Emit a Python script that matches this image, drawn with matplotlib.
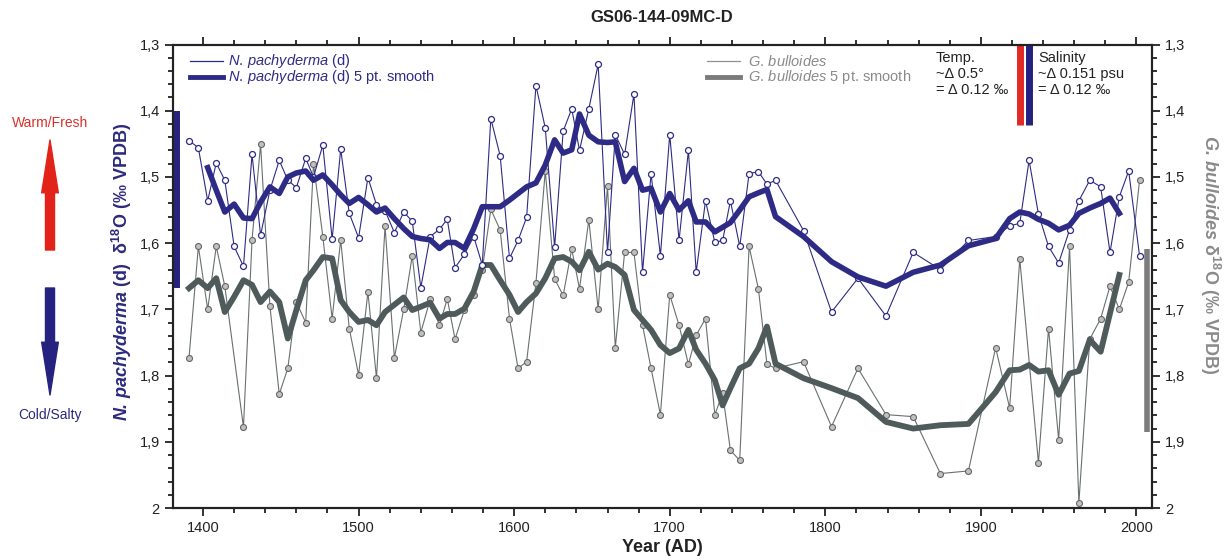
import numpy as np
import matplotlib
matplotlib.use("Agg")
import matplotlib.pyplot as plt
from matplotlib.ticker import MultipleLocator, FuncFormatter

plt.rcParams['font.family'] = ['Liberation Sans', 'DejaVu Sans']
plt.rcParams['mathtext.fontset'] = 'custom'
plt.rcParams['mathtext.rm'] = 'Liberation Sans'
plt.rcParams['mathtext.it'] = 'Liberation Sans:italic'
plt.rcParams['mathtext.bf'] = 'Liberation Sans:bold'
plt.rcParams['mathtext.bfit'] = 'Liberation Sans:italic:bold'

# sample years (AD)
years = np.array([
    1391, 1397, 1403, 1408.5, 1414, 1420, 1426, 1431.5, 1437, 1443,
    1449, 1454.5, 1460, 1466, 1471, 1477, 1483, 1488.5, 1494, 1500,
    1506, 1511.5, 1517, 1523, 1529, 1534.5, 1540, 1546, 1552, 1557,
    1562, 1568, 1574, 1579.5, 1585, 1591, 1597, 1602.5, 1608, 1614,
    1620, 1626, 1631.5, 1637, 1642, 1648, 1654, 1660, 1665, 1671,
    1677, 1682.5, 1688, 1694, 1700, 1706, 1712, 1717, 1723, 1729,
    1734, 1739, 1745, 1751, 1757, 1762.5, 1768, 1786, 1804, 1821,
    1839, 1856.5, 1874, 1892, 1909.5, 1918.5, 1925, 1931, 1937, 1943.5,
    1950, 1957, 1963, 1970, 1977, 1983, 1989, 1995, 2002])

nan = np.nan

# N. pachyderma (d) d18O
npd_raw = np.array([
    1.445, 1.456, 1.536, 1.479, 1.505, 1.605, 1.635, 1.466, 1.588, 1.520,
    1.475, 1.505, 1.516, 1.472, 1.500, 1.452, 1.594, 1.458, 1.555, 1.592,
    1.501, 1.542, 1.551, 1.584, 1.553, 1.567, 1.667, 1.590, 1.579, 1.564,
    1.637, 1.617, 1.590, 1.633, 1.412, 1.468, 1.623, 1.596, 1.561, 1.362,
    1.426, 1.606, 1.431, 1.397, 1.460, 1.397, 1.330, 1.614, 1.436, 1.466,
    1.375, 1.644, 1.495, 1.619, 1.436, 1.596, 1.460, 1.644, 1.536, 1.599,
    1.596, 1.536, 1.605, 1.495, 1.492, 1.511, 1.505, 1.581, 1.704, 1.653,
    1.710, 1.614, 1.640, 1.596, 1.590, 1.574, 1.570, 1.475, 1.556, 1.605,
    1.630, 1.580, 1.536, 1.505, 1.515, 1.614, 1.530, 1.491, 1.619])

npd_smooth = np.array([
    nan, nan, 1.486, 1.520, 1.553, 1.541, 1.562, 1.563, 1.538, 1.515,
    1.525, 1.500, 1.494, 1.491, 1.505, 1.497, 1.512, 1.527, 1.540, 1.531,
    1.542, 1.553, 1.547, 1.563, 1.578, 1.590, 1.593, 1.595, 1.608, 1.599,
    1.599, 1.608, 1.578, 1.545, 1.545, 1.545, 1.535, 1.525, 1.515, 1.509,
    1.482, 1.444, 1.464, 1.459, 1.405, 1.437, 1.447, 1.448, 1.447, 1.507,
    1.487, 1.520, 1.517, 1.553, 1.525, 1.550, 1.536, 1.568, 1.568, 1.583,
    1.576, 1.569, 1.550, 1.530, 1.524, 1.519, 1.560, 1.590, 1.628, 1.651,
    1.665, 1.644, 1.633, 1.604, 1.593, 1.563, 1.553, 1.556, 1.564, 1.570,
    1.580, 1.573, 1.555, 1.547, 1.540, 1.532, 1.555, nan, nan])

# G. bulloides d18O
gb_raw = np.array([
    1.773, 1.605, 1.700, 1.605, 1.665, nan, 1.878, 1.595, 1.451, 1.695,
    1.828, 1.789, 1.689, 1.720, 1.480, 1.590, 1.714, 1.595, 1.729, 1.799,
    1.674, 1.804, 1.574, 1.773, 1.700, 1.619, 1.735, 1.685, 1.724, 1.684,
    1.745, 1.701, 1.678, 1.640, 1.549, 1.580, 1.714, 1.789, 1.779, 1.660,
    1.491, 1.654, 1.679, 1.609, 1.669, 1.565, 1.700, 1.514, 1.758, 1.614,
    1.614, 1.724, 1.789, 1.859, 1.678, 1.724, 1.783, 1.739, 1.714, 1.859,
    1.827, 1.913, 1.928, 1.605, 1.669, 1.783, 1.789, 1.779, 1.877, 1.789,
    1.859, 1.862, 1.948, 1.944, 1.758, 1.849, 1.624, nan, 1.932, 1.729,
    1.897, 1.605, 1.992, 1.745, 1.714, 1.665, 1.700, 1.659, 1.505])

gb_smooth = np.array([
    1.668, 1.656, 1.668, 1.653, 1.704, 1.681, 1.656, 1.663, 1.689, 1.673,
    1.689, 1.744, 1.701, 1.656, 1.641, 1.621, 1.623, 1.686, 1.704, 1.719,
    1.716, 1.724, 1.704, 1.693, 1.682, 1.701, 1.696, 1.690, 1.714, 1.707,
    1.707, 1.699, 1.673, 1.633, 1.633, 1.656, 1.678, 1.704, 1.689, 1.676,
    1.653, 1.623, 1.621, 1.628, 1.641, 1.613, 1.640, 1.631, 1.636, 1.648,
    1.701, 1.716, 1.731, 1.754, 1.766, 1.759, 1.731, 1.761, 1.782, 1.807,
    1.845, 1.819, 1.789, 1.782, 1.759, 1.726, 1.782, 1.804, 1.819, 1.834,
    1.870, 1.880, 1.875, 1.873, 1.825, 1.792, 1.791, 1.784, 1.794, 1.792,
    1.829, 1.797, 1.793, 1.746, 1.764, 1.706, 1.648, nan, nan])

# range bars (year, top, bottom)
npd_range = (1383.5, 1.40, 1.668)
gb_range = (2006.5, 1.609, 1.885)
temp_bar = (1925.4, 1.30, 1.422)
sal_bar = (1931.2, 1.30, 1.422)

BLUE = '#2d2b85'
GRAY_LINE = '#687070'
GRAY_SMOOTH = '#4f5a5a'
GRAY_TEXT = '#8a8a8a'

W, H = 1230, 559
fig = plt.figure(figsize=(W / 100, H / 100), dpi=100)
ax = fig.add_axes([173 / W, 1 - 508 / H, 979 / W, 463.5 / H])

m = ~np.isnan(gb_raw)
ax.plot(years[m], gb_raw[m], color=GRAY_LINE, lw=0.8, marker='o', ms=4.3,
        mfc='#c0c0c0', mec='#666666', mew=0.8, zorder=2)
ax.plot(years, gb_smooth, color=GRAY_SMOOTH, lw=4.2, zorder=3)
ax.plot(years, npd_raw, color=BLUE, lw=0.8, marker='o', ms=4.3,
        mfc='white', mec=BLUE, mew=0.9, zorder=4)
ax.plot(years, npd_smooth, color=BLUE, lw=4, zorder=5)

# range bars
ax.plot([npd_range[0]] * 2, npd_range[1:], color='#262280', lw=4.3, solid_capstyle='butt')
ax.plot([gb_range[0]] * 2, gb_range[1:], color='#7c7c7c', lw=4, solid_capstyle='butt')
ax.plot([temp_bar[0]] * 2, temp_bar[1:], color='#e02a26', lw=5, solid_capstyle='butt', clip_on=False)
ax.plot([sal_bar[0]] * 2, sal_bar[1:], color='#262280', lw=5, solid_capstyle='butt', clip_on=False)

# axes
ax.set_xlim(1380.7, 2010)
ax.set_ylim(2.0, 1.3)
ax.xaxis.set_major_locator(MultipleLocator(100))
ax.xaxis.set_minor_locator(MultipleLocator(20))
ax.yaxis.set_major_locator(MultipleLocator(0.1))
ax.yaxis.set_minor_locator(MultipleLocator(0.02))


def comma(v, pos):
    s = f'{v:.1f}'.replace('.', ',')
    return '2' if s == '2,0' else s


ax.yaxis.set_major_formatter(FuncFormatter(comma))
ax.tick_params(which='both', direction='out', top=True, width=1.3, labelsize=10.5,
               colors='#222222')
ax.tick_params(which='major', length=6)
ax.tick_params(which='minor', length=3.5)

ax2 = ax.twinx()
ax2.set_ylim(2.0, 1.3)
ax2.yaxis.set_major_locator(MultipleLocator(0.1))
ax2.yaxis.set_minor_locator(MultipleLocator(0.02))
ax2.yaxis.set_major_formatter(FuncFormatter(comma))
ax2.tick_params(which='both', direction='out', width=1.3, labelsize=10.5, colors='#222222')
ax2.tick_params(which='major', length=6)
ax2.tick_params(which='minor', length=3.5)
for a in (ax, ax2):
    for s in a.spines.values():
        s.set_linewidth(1.5)
        s.set_color('#222222')

# legends drawn by hand
tr = ax.transAxes
ax.plot([0.017, 0.051], [0.964, 0.964], color=BLUE, lw=0.9, transform=tr)
ax.plot([0.017, 0.051], [0.930, 0.930], color=BLUE, lw=3.5, transform=tr)
ax.text(0.056, 0.964, r'$\mathit{N.\,pachyderma}$ (d)', color=BLUE, fontsize=10.5,
        va='center', transform=tr)
ax.text(0.056, 0.930, r'$\mathit{N.\,pachyderma}$ (d) 5 pt. smooth', color=BLUE,
        fontsize=10.5, va='center', transform=tr)
ax.plot([0.545, 0.579], [0.964, 0.964], color='#909090', lw=0.9, transform=tr)
ax.plot([0.545, 0.579], [0.930, 0.930], color='#7a7a7a', lw=3.5, transform=tr)
ax.text(0.587, 0.964, r'$\mathit{G.\,bulloides}$', color=GRAY_TEXT, fontsize=10.5,
        va='center', transform=tr)
ax.text(0.587, 0.930, r'$\mathit{G.\,bulloides}$ 5 pt. smooth', color=GRAY_TEXT,
        fontsize=10.5, va='center', transform=tr)

ax.text(0.779, 0.985, 'Temp.\n~Δ 0.5°\n= Δ 0.12 ‰', fontsize=10.5, color='#222222',
        va='top', linespacing=1.15, transform=tr)
ax.text(0.884, 0.985, 'Salinity\n~Δ 0.151 psu\n= Δ 0.12 ‰', fontsize=10.5,
        color='#222222', va='top', linespacing=1.15, transform=tr)

# titles and axis labels
fig.text(662 / W, 1 - 18 / H, 'GS06-144-09MC-D', ha='center', va='center',
         fontsize=12, fontweight='bold', color='#222222')
fig.text(662 / W, 1 - 548 / H, 'Year (AD)', ha='center', va='center',
         fontsize=13, fontweight='bold', color='#222222')
fig.text(122 / W, 1 - 272 / H,
         r'$\mathbfit{N.\,pachyderma}$ (d)  δ$^{\mathbf{18}}$O (‰ VPDB)',
         rotation=90, ha='center', va='center', fontsize=13, fontweight='bold',
         color='#2b2a7c')
fig.text(1210 / W, 1 - 255 / H,
         r'$\mathbfit{G.\,bulloides}$ δ$^{\mathbf{18}}$O (‰ VPDB)',
         rotation=-90, ha='center', va='center', fontsize=13, fontweight='bold',
         color='#8a8a8a')

# warm/cold arrows
fig.text(50 / W, 1 - 123 / H, 'Warm/Fresh', ha='center', va='center', fontsize=10,
         color='#d8302a')
fig.text(50 / W, 1 - 415 / H, 'Cold/Salty', ha='center', va='center', fontsize=10,
         color='#2b2a7c')
ax.annotate('', xy=(50, H - 140), xycoords='figure pixels',
            xytext=(50, H - 250), textcoords='figure pixels',
            arrowprops=dict(width=6.5, headwidth=12, headlength=38,
                            color='#e2231a', shrink=0))
ax.annotate('', xy=(50, H - 395), xycoords='figure pixels',
            xytext=(50, H - 288), textcoords='figure pixels',
            arrowprops=dict(width=6.5, headwidth=12, headlength=38,
                            color='#262280', shrink=0))

fig.savefig('out.png', dpi=100)
